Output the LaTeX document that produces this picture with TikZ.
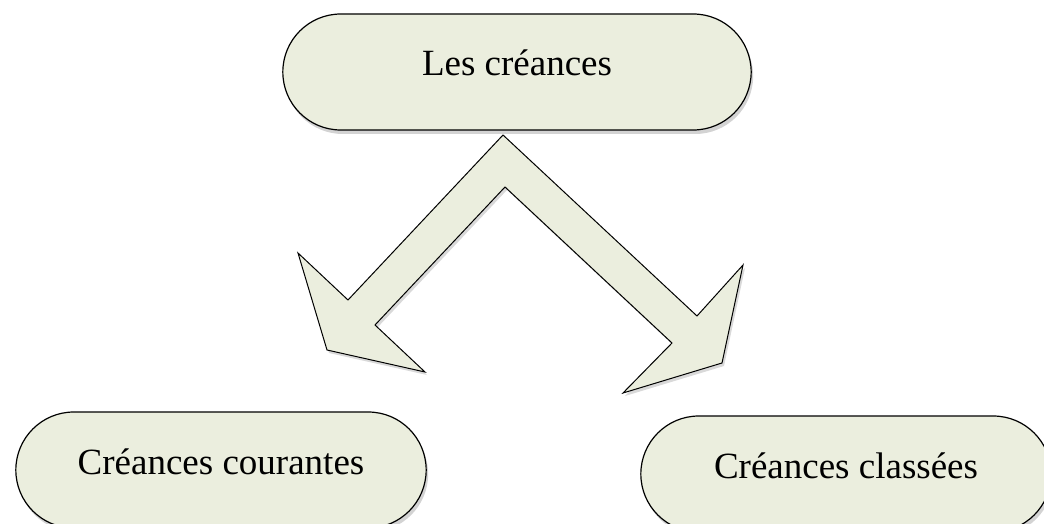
\documentclass[tikz,border=0pt]{standalone}
\usepackage{fontspec}
\setmainfont{Liberation Serif}
\usetikzlibrary{shapes.misc, shadows}

\definecolor{boxfill}{RGB}{235,238,222}
\tikzset{
	terminal/.style = {rounded rectangle, draw, line width = 1.2pt, fill = boxfill,
		drop shadow = {shadow xshift = 2pt, shadow yshift = -4pt, opacity = 0.35},
		minimum height = 116pt, text height = 26pt, text depth = 18pt,
		font = \fontsize{37}{44}\selectfont},
	blockarrow/.style = {draw, line width = 1pt, fill = boxfill, line join = miter,
		drop shadow = {shadow xshift = 2pt, shadow yshift = -3pt, opacity = 0.3}}
}

\begin{document}
\begin{tikzpicture}[x = 1pt, y = -1pt]
\useasboundingbox (0, 0) rectangle (1044, 524);
\node[terminal, minimum width = 475pt] (creances) at (517, 72) {Les créances};
\node[terminal, minimum width = 417pt] (courantes) at (221, 470) {Créances courantes};
\node[terminal, minimum width = 417pt] (classees) at (846, 474) {Créances classées};
% double arrow
\draw[blockarrow]
	(503, 135) --
	(348, 300) -- (298, 253) -- (327, 350) -- (425, 372) -- (375, 325) --
	(505, 187) --
	(672, 343) -- (623, 393) -- (722, 363) -- (743, 265) -- (697, 316) --
	cycle;
\end{tikzpicture}
\end{document}
